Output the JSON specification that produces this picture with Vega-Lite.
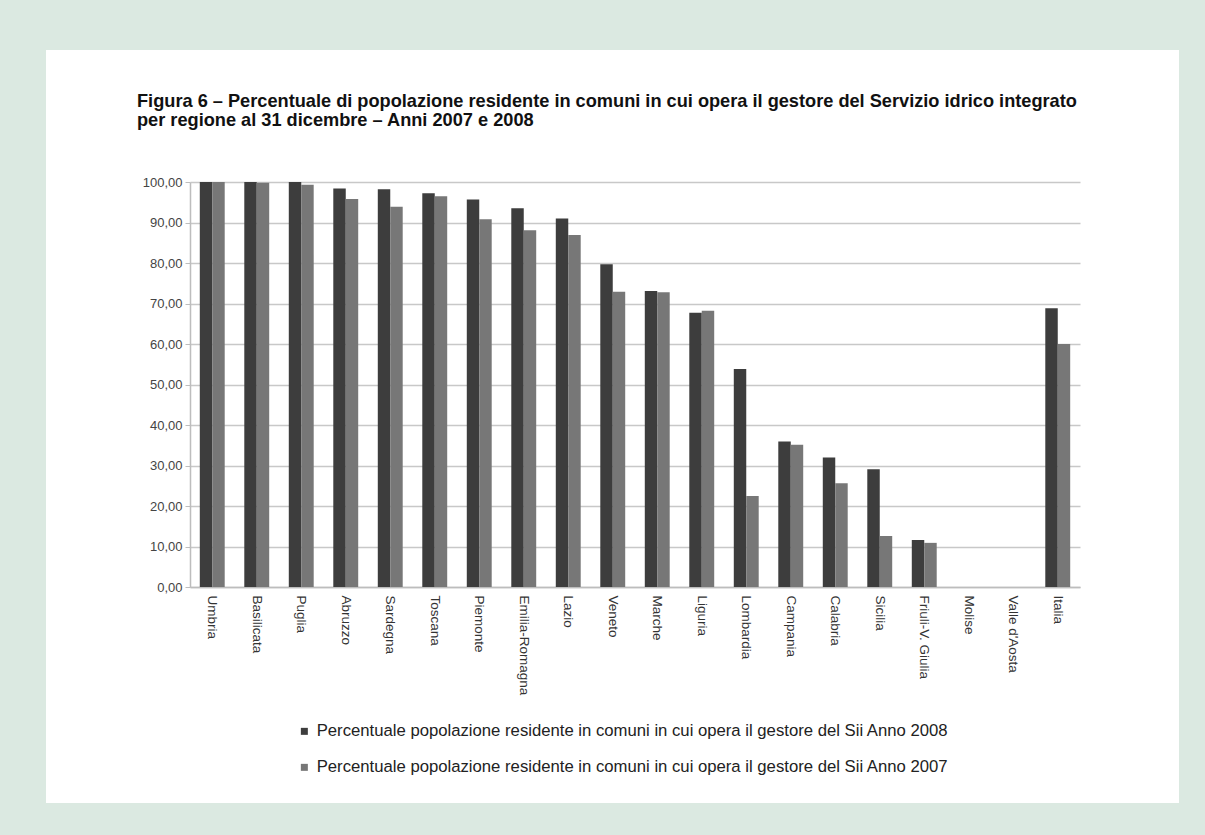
{
  "$schema": "https://vega.github.io/schema/vega-lite/v6.json",
  "width": 1133,
  "height": 753,
  "autosize": {"type": "none"},
  "padding": {"left": 46, "top": 50, "right": 26, "bottom": 32},
  "background": "#dbe9e1",
  "config": {
    "view": {"fill": "white", "stroke": null},
    "font": "Liberation Sans"
  },
  "title": {
    "text": [
      "Figura 6 – Percentuale di popolazione residente in comuni in cui opera il gestore del Servizio idrico integrato",
      "per regione al 31 dicembre – Anni 2007 e 2008"
    ],
    "anchor": "start",
    "frame": "group",
    "orient": "top",
    "offset": 0,
    "dx": 91,
    "dy": 80,
    "baseline": "top",
    "font": "Liberation Sans",
    "fontWeight": "bold",
    "fontSize": 18.2,
    "lineHeight": 19,
    "color": "#111111"
  },
  "data": {
    "values": [
      {"regione": "Umbria", "serie": "2008", "valore": 100.0},
      {"regione": "Umbria", "serie": "2007", "valore": 100.0},
      {"regione": "Basilicata", "serie": "2008", "valore": 100.0},
      {"regione": "Basilicata", "serie": "2007", "valore": 99.8},
      {"regione": "Puglia", "serie": "2008", "valore": 100.0},
      {"regione": "Puglia", "serie": "2007", "valore": 99.3},
      {"regione": "Abruzzo", "serie": "2008", "valore": 98.4},
      {"regione": "Abruzzo", "serie": "2007", "valore": 95.8},
      {"regione": "Sardegna", "serie": "2008", "valore": 98.2},
      {"regione": "Sardegna", "serie": "2007", "valore": 93.9},
      {"regione": "Toscana", "serie": "2008", "valore": 97.2},
      {"regione": "Toscana", "serie": "2007", "valore": 96.5},
      {"regione": "Piemonte", "serie": "2008", "valore": 95.7},
      {"regione": "Piemonte", "serie": "2007", "valore": 90.8},
      {"regione": "Emilia-Romagna", "serie": "2008", "valore": 93.5},
      {"regione": "Emilia-Romagna", "serie": "2007", "valore": 88.1},
      {"regione": "Lazio", "serie": "2008", "valore": 91.0},
      {"regione": "Lazio", "serie": "2007", "valore": 86.9},
      {"regione": "Veneto", "serie": "2008", "valore": 79.7},
      {"regione": "Veneto", "serie": "2007", "valore": 72.9},
      {"regione": "Marche", "serie": "2008", "valore": 73.1},
      {"regione": "Marche", "serie": "2007", "valore": 72.8},
      {"regione": "Liguria", "serie": "2008", "valore": 67.7},
      {"regione": "Liguria", "serie": "2007", "valore": 68.2},
      {"regione": "Lombardia", "serie": "2008", "valore": 53.8},
      {"regione": "Lombardia", "serie": "2007", "valore": 22.5},
      {"regione": "Campania", "serie": "2008", "valore": 35.9},
      {"regione": "Campania", "serie": "2007", "valore": 35.1},
      {"regione": "Calabria", "serie": "2008", "valore": 32.0},
      {"regione": "Calabria", "serie": "2007", "valore": 25.6},
      {"regione": "Sicilia", "serie": "2008", "valore": 29.1},
      {"regione": "Sicilia", "serie": "2007", "valore": 12.6},
      {"regione": "Friuli-V. Giulia", "serie": "2008", "valore": 11.6},
      {"regione": "Friuli-V. Giulia", "serie": "2007", "valore": 10.9},
      {"regione": "Molise", "serie": "2008", "valore": 0},
      {"regione": "Molise", "serie": "2007", "valore": 0},
      {"regione": "Valle d'Aosta", "serie": "2008", "valore": 0},
      {"regione": "Valle d'Aosta", "serie": "2007", "valore": 0},
      {"regione": "Italia", "serie": "2008", "valore": 68.8},
      {"regione": "Italia", "serie": "2007", "valore": 60.0}
    ]
  },
  "mark": {"type": "bar"},
  "encoding": {
    "x": {
      "field": "regione",
      "type": "nominal",
      "sort": null,
      "scale": {"range": [144, 1034], "paddingInner": 0.44, "paddingOuter": 0.22},
      "axis": {
        "title": null,
        "offset": -216,
        "labelAngle": 90,
        "labelFontSize": 13.5,
        "labelColor": "#333333",
        "labelPadding": 8,
        "ticks": false,
        "domainColor": "#bdbdbd",
        "domainWidth": 1.5,
        "grid": false
      }
    },
    "xOffset": {
      "field": "serie",
      "type": "nominal",
      "sort": ["2008", "2007"],
      "scale": {"paddingInner": 0}
    },
    "y": {
      "field": "valore",
      "type": "quantitative",
      "scale": {"domain": [0, 100], "range": [537, 132], "nice": false},
      "axis": {
        "title": null,
        "offset": -144,
        "values": [0, 10, 20, 30, 40, 50, 60, 70, 80, 90, 100],
        "labelExpr": "replace(format(datum.value, '.2f'), '.', ',')",
        "labelFontSize": 13,
        "labelColor": "#444444",
        "labelPadding": 3,
        "tickSize": 5,
        "tickColor": "#bdbdbd",
        "domainColor": "#bdbdbd",
        "domainWidth": 1.5,
        "gridColor": "#c8c8c8",
        "gridWidth": 1.5
      }
    },
    "color": {
      "field": "serie",
      "type": "nominal",
      "scale": {"domain": ["2008", "2007"], "range": ["#3d3d3d", "#777777"]},
      "legend": {
        "title": null,
        "orient": "none",
        "legendX": 250,
        "legendY": 673,
        "direction": "vertical",
        "symbolType": "square",
        "symbolSize": 49,
        "symbolStrokeWidth": 0,
        "labelFontSize": 16.7,
        "labelColor": "#222222",
        "labelLimit": 900,
        "rowPadding": 18,
        "labelOffset": 4,
        "labelExpr": "'Percentuale popolazione residente in comuni in cui opera il gestore del Sii Anno ' + datum.label"
      }
    }
  }
}
